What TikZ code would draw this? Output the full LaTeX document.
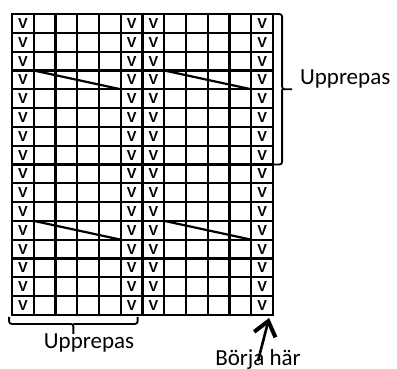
\documentclass[tikz,border=0pt]{standalone}
\usepackage{fontspec}
\setmainfont{Carlito}
\newfontfamily\cellfont{Liberation Sans}
\newcommand{\knit}{{\cellfont\bfseries\fontsize{14.5}{14.5}\selectfont V}}
\usetikzlibrary{matrix, arrows.meta}
\tikzset{>=latex}

\begin{document}
\begin{tikzpicture}[x=1pt, y=-1pt, line width=2.2pt,
  lbl/.style={font=\fontsize{23}{23}\selectfont, inner sep=0pt},
  hook/.style={line width=1.8pt, rounded corners=2.5pt}]
\useasboundingbox (0,0) rectangle (397,369);
\matrix(chart)[matrix of nodes, anchor=north west, inner sep=0pt, outer sep=0pt,
  row sep=-2.2pt, column sep=-2.2pt, nodes in empty cells,
  nodes={draw, anchor=center, line width=2.2pt, minimum width=21.75pt, minimum height=18.8pt,
  inner sep=0pt, outer sep=0pt},
  ampersand replacement=\&] at (11,13)
{\knit \& \& \& \& \& \knit \& \knit \& \& \& \& \& \knit \\
\knit \& \& \& \& \& \knit \& \knit \& \& \& \& \& \knit \\
\knit \& \& \& \& \& \knit \& \knit \& \& \& \& \& \knit \\
\knit \& \& \& \& \& \knit \& \knit \& \& \& \& \& \knit \\
\knit \& \& \& \& \& \knit \& \knit \& \& \& \& \& \knit \\
\knit \& \& \& \& \& \knit \& \knit \& \& \& \& \& \knit \\
\knit \& \& \& \& \& \knit \& \knit \& \& \& \& \& \knit \\
\knit \& \& \& \& \& \knit \& \knit \& \& \& \& \& \knit \\
\knit \& \& \& \& \& \knit \& \knit \& \& \& \& \& \knit \\
\knit \& \& \& \& \& \knit \& \knit \& \& \& \& \& \knit \\
\knit \& \& \& \& \& \knit \& \knit \& \& \& \& \& \knit \\
\knit \& \& \& \& \& \knit \& \knit \& \& \& \& \& \knit \\
\knit \& \& \& \& \& \knit \& \knit \& \& \& \& \& \knit \\
\knit \& \& \& \& \& \knit \& \knit \& \& \& \& \& \knit \\
\knit \& \& \& \& \& \knit \& \knit \& \& \& \& \& \knit \\
\knit \& \& \& \& \& \knit \& \knit \& \& \& \& \& \knit \\};
% diagonals
\draw (chart-4-2.north west) -- (chart-4-5.south east);
\draw (chart-4-8.north west) -- (chart-4-11.south east);
\draw (chart-12-2.north west) -- (chart-12-5.south east);
\draw (chart-12-8.north west) -- (chart-12-11.south east);
% labels
\node[lbl, anchor=base west] (reptop) at (299,85) {Upprepas};
\node[lbl, anchor=base] (repbot) at (89,348) {Upprepas};
\node[lbl, anchor=base] (start) at (258,365) {Börja här};
% braces
\draw[hook] ([xshift=1pt]chart-1-12.north east) -| ([xshift=9pt]chart-4-12.south east)
  -- ([xshift=19pt]chart-4-12.south east)
  ([xshift=9pt]chart-4-12.south east) |- ([xshift=1pt]chart-8-12.south east);
\draw[hook] ([shift={(-3pt,-2pt)}]chart-16-1.south west) |- ([shift={(-4pt,-9pt)}]chart-16-3.south east)
  -- ([shift={(-4pt,-19pt)}]chart-16-3.south east)
  ([shift={(-4pt,-9pt)}]chart-16-3.south east) -| ([shift={(-5pt,-2pt)}]chart-16-6.south east);
% arrow
\draw[line width=2.6pt, -{Straight Barb[length=14pt,width=22pt,line width=4pt]}]
  ([yshift=-2pt]start.center) -- ([shift={(-4pt,-3pt)}]chart-16-12.south east);
\end{tikzpicture}
\end{document}
